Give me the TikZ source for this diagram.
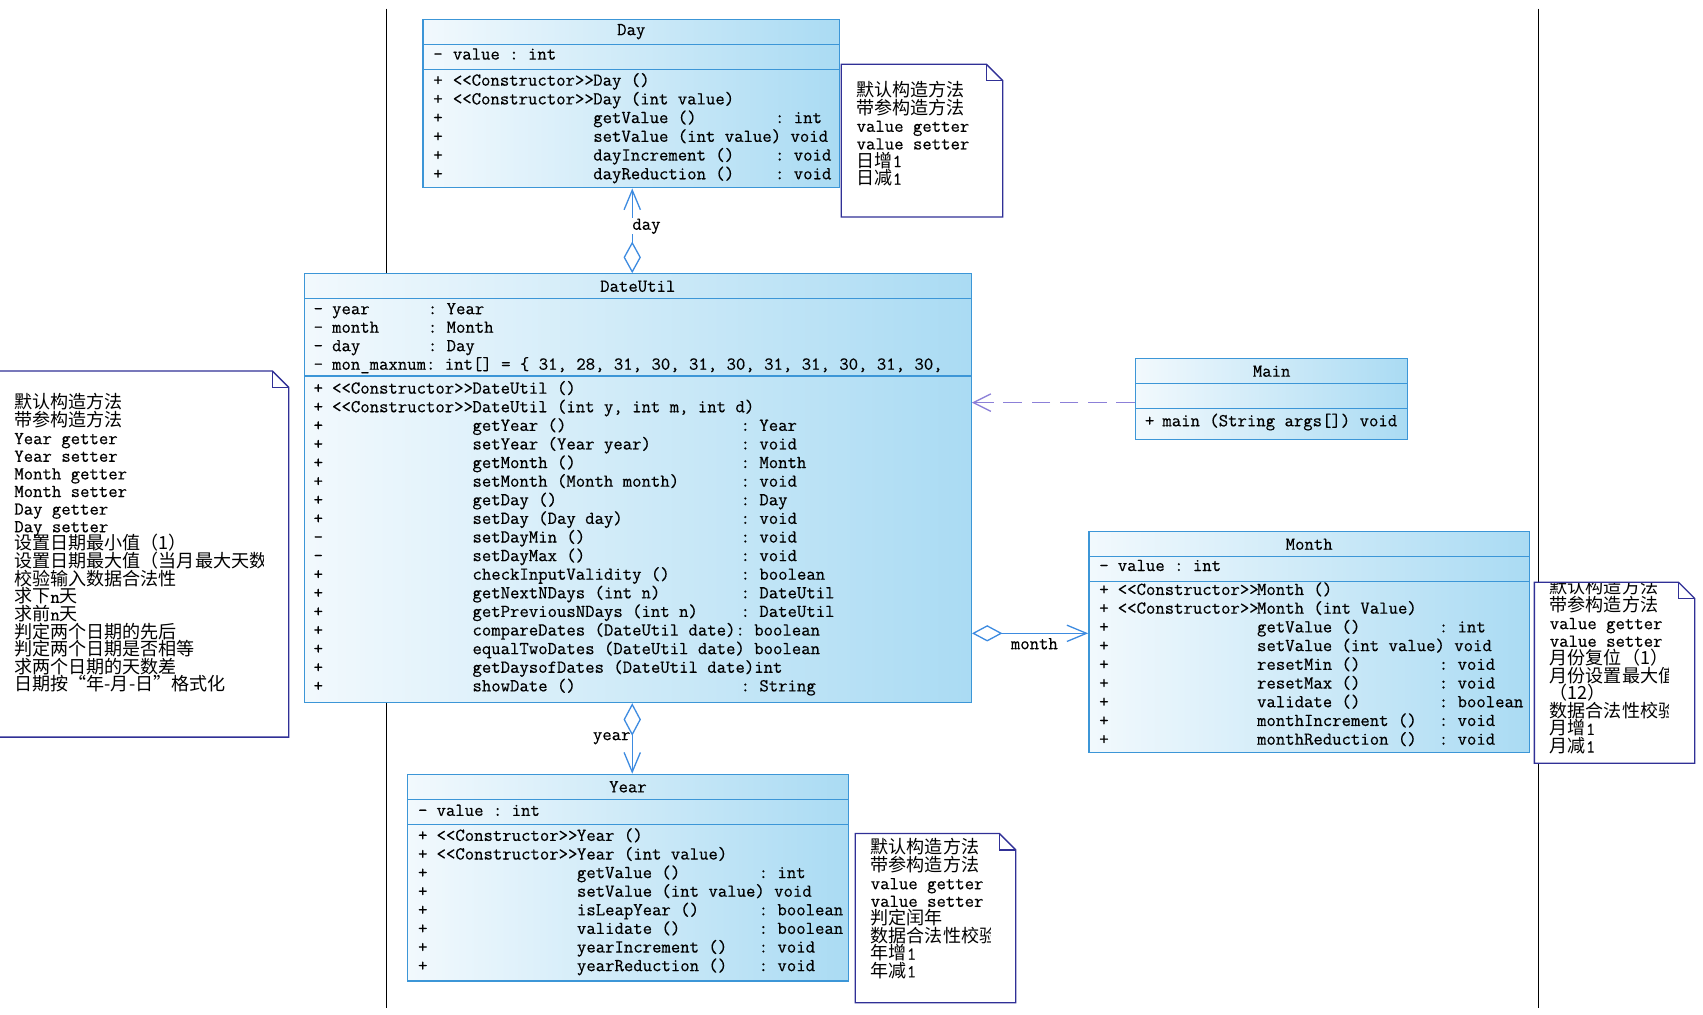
\documentclass[tikz,border=0pt]{standalone}
\usepackage{fontspec}
\setmonofont{Latin Modern Mono}[FakeBold=0.4]
\newfontfamily\cjk{Noto Sans CJK SC}
\usetikzlibrary{arrows.meta}
\definecolor{cbd}{RGB}{60,150,215}
\definecolor{cL}{RGB}{242,249,253}
\definecolor{cR}{RGB}{170,219,243}
\definecolor{cnote}{RGB}{48,48,150}
\definecolor{clink}{RGB}{61,139,224}
\definecolor{cdep}{RGB}{140,128,216}
\newcounter{tl}
\newcommand\TL[3]{\stepcounter{tl}\node[tt] (tl\arabic{tl}) at (#1,#2) {#3};}
\newcommand\C[1]{{\cjk\fontsize{16.6}{17}\selectfont #1}}
\begin{document}
\begin{tikzpicture}[x=1pt,y=-1pt,
  tt/.style={anchor=west, inner sep=0pt, font=\ttfamily\fontsize{16.76}{17}\selectfont, text height=11pt, text depth=3.5pt},
  sect/.style={draw=cbd, line width=1.2pt, left color=cL, right color=cR, inner sep=0pt, anchor=north west, font=\ttfamily\fontsize{16.76}{17}\selectfont},
  notebg/.style={fill=white, draw=none, inner sep=0pt, anchor=north west},
  noteline/.style={draw=cnote, line width=1.2pt, line join=miter},
  vline/.style={draw=black, line width=1.3pt},
  link/.style={draw=clink, line width=1.2pt},
  dep/.style={draw=cdep, line width=1.2pt, dash pattern=on 17pt off 9pt},
  lbl/.style={font=\ttfamily\fontsize{16.76}{17}\selectfont, fill=white, inner sep=1pt, text height=10pt, text depth=3pt}]
\useasboundingbox (0,0) rectangle (1565,932);
% swimlane lines
\draw[vline] (355,8) -- (355,926);
\draw[vline] (1414,8) -- (1414,926);

% ---------------- Day ----------------
\node[sect, minimum width=383pt, minimum height=23pt] (dayH) at (388,17) {Day};
\node[sect, minimum width=383pt, minimum height=23pt] (dayA) at (388,40) {};
\node[sect, minimum width=383pt, minimum height=109pt] (dayM) at (388,63) {};
\TL{398}{51}{-}\TL{416}{51}{value : int}
\TL{398}{75}{+}\TL{416}{75}{<<Constructor>>}\TL{545}{75}{Day ()}
\TL{398}{92.2}{+}\TL{416}{92.2}{<<Constructor>>}\TL{545}{92.2}{Day (int value)}
\TL{398}{109.4}{+}\TL{545}{109.4}{getValue ()}\TL{712}{109.4}{: int}
\TL{398}{126.6}{+}\TL{545}{126.6}{setValue (int value) void}
\TL{398}{143.8}{+}\TL{545}{143.8}{dayIncrement ()}\TL{712}{143.8}{: void}
\TL{398}{161}{+}\TL{545}{161}{dayReduction ()}\TL{712}{161}{: void}

% ---------------- DateUtil ----------------
\node[sect, minimum width=613pt, minimum height=23pt] (duH) at (279,251) {DateUtil};
\node[sect, minimum width=613pt, minimum height=71pt] (duA) at (279,274) {};
\node[sect, minimum width=613pt, minimum height=300pt] (duM) at (279,345) {};
\TL{288}{285}{-}\TL{305}{285}{year}\TL{393}{285}{: Year}
\TL{288}{302}{-}\TL{305}{302}{month}\TL{393}{302}{: Month}
\TL{288}{319}{-}\TL{305}{319}{day}\TL{393}{319}{: Day}
\TL{288}{336}{-}\TL{305}{336}{mon\_maxnum: int[] = \{ 31, 28, 31, 30, 31, 30, 31, 31, 30, 31, 30,}
\TL{288}{358}{+}\TL{305}{358}{<<Constructor>>}\TL{434}{358}{DateUtil ()}
\TL{288}{375.1}{+}\TL{305}{375.1}{<<Constructor>>}\TL{434}{375.1}{DateUtil (int y, int m, int d)}
\TL{288}{392.2}{+}\TL{434}{392.2}{getYear ()}\TL{680.4}{392.2}{: Year}
\TL{288}{409.3}{+}\TL{434}{409.3}{setYear (Year year)}\TL{680.4}{409.3}{: void}
\TL{288}{426.4}{+}\TL{434}{426.4}{getMonth ()}\TL{680.4}{426.4}{: Month}
\TL{288}{443.5}{+}\TL{434}{443.5}{setMonth (Month month)}\TL{680.4}{443.5}{: void}
\TL{288}{460.6}{+}\TL{434}{460.6}{getDay ()}\TL{680.4}{460.6}{: Day}
\TL{288}{477.7}{+}\TL{434}{477.7}{setDay (Day day)}\TL{680.4}{477.7}{: void}
\TL{288}{494.8}{-}\TL{434}{494.8}{setDayMin ()}\TL{680.4}{494.8}{: void}
\TL{288}{511.9}{-}\TL{434}{511.9}{setDayMax ()}\TL{680.4}{511.9}{: void}
\TL{288}{529.0}{+}\TL{434}{529.0}{checkInputValidity ()}\TL{680.4}{529.0}{: boolean}
\TL{288}{546.1}{+}\TL{434}{546.1}{getNextNDays (int n)}\TL{680.4}{546.1}{: DateUtil}
\TL{288}{563.2}{+}\TL{434}{563.2}{getPreviousNDays (int n)}\TL{680.4}{563.2}{: DateUtil}
\TL{288}{580.3}{+}\TL{434}{580.3}{compareDates (DateUtil date): boolean}
\TL{288}{597.4}{+}\TL{434}{597.4}{equalTwoDates (DateUtil date) boolean}
\TL{288}{614.5}{+}\TL{434}{614.5}{getDaysofDates (DateUtil date)int}
\TL{288}{631.6}{+}\TL{434}{631.6}{showDate ()}\TL{680.4}{631.6}{: String}

% ---------------- Main ----------------
\node[sect, minimum width=250pt, minimum height=23pt] (mainH) at (1043,329) {Main};
\node[sect, minimum width=250pt, minimum height=23pt] (mainA) at (1043,352) {};
\node[sect, minimum width=250pt, minimum height=28pt] (mainM) at (1043,375) {};
\TL{1052}{388}{+}\TL{1068}{388}{main (String args[]) void}

% ---------------- Month ----------------
\node[sect, minimum width=405pt, minimum height=23pt] (monH) at (1000,488) {Month};
\node[sect, minimum width=405pt, minimum height=23pt] (monA) at (1000,511) {};
\node[sect, minimum width=405pt, minimum height=157pt] (monM) at (1000,534) {};
\TL{1010}{521}{-}\TL{1027}{521}{value : int}
\TL{1010}{543}{+}\TL{1027}{543}{<<Constructor>>}\TL{1155}{543}{Month ()}
\TL{1010}{560.2}{+}\TL{1027}{560.2}{<<Constructor>>}\TL{1155}{560.2}{Month (int Value)}
\TL{1010}{577.4}{+}\TL{1155}{577.4}{getValue ()}\TL{1322}{577.4}{: int}
\TL{1010}{594.6}{+}\TL{1155}{594.6}{setValue (int value) void}
\TL{1010}{611.8}{+}\TL{1155}{611.8}{resetMin ()}\TL{1322}{611.8}{: void}
\TL{1010}{629}{+}\TL{1155}{629}{resetMax ()}\TL{1322}{629}{: void}
\TL{1010}{646.2}{+}\TL{1155}{646.2}{validate ()}\TL{1322}{646.2}{: boolean}
\TL{1010}{663.4}{+}\TL{1155}{663.4}{monthIncrement ()}\TL{1322}{663.4}{: void}
\TL{1010}{680.6}{+}\TL{1155}{680.6}{monthReduction ()}\TL{1322}{680.6}{: void}

% ---------------- Year ----------------
\node[sect, minimum width=405pt, minimum height=23pt] (yrH) at (374,711) {Year};
\node[sect, minimum width=405pt, minimum height=23pt] (yrA) at (374,734) {};
\node[sect, minimum width=405pt, minimum height=144pt] (yrM) at (374,757) {};
\TL{384}{746}{-}\TL{401}{746}{value : int}
\TL{384}{769}{+}\TL{401}{769}{<<Constructor>>}\TL{530}{769}{Year ()}
\TL{384}{786.1}{+}\TL{401}{786.1}{<<Constructor>>}\TL{530}{786.1}{Year (int value)}
\TL{384}{803.2}{+}\TL{530}{803.2}{getValue ()}\TL{697}{803.2}{: int}
\TL{384}{820.3}{+}\TL{530}{820.3}{setValue (int value) void}
\TL{384}{837.4}{+}\TL{530}{837.4}{isLeapYear ()}\TL{697}{837.4}{: boolean}
\TL{384}{854.5}{+}\TL{530}{854.5}{validate ()}\TL{697}{854.5}{: boolean}
\TL{384}{871.6}{+}\TL{530}{871.6}{yearIncrement ()}\TL{697}{871.6}{: void}
\TL{384}{888.7}{+}\TL{530}{888.7}{yearReduction ()}\TL{697}{888.7}{: void}

% ---------------- Notes ----------------
% Day note
\node[notebg, minimum width=148pt, minimum height=140pt] (dnote) at (773,59) {};
\TL{787}{85}{\C{默认构造方法}}
\TL{787}{101.2}{\C{带参构造方法}}
\TL{787}{117.4}{value getter}
\TL{787}{133.6}{value setter}
\TL{787}{149.8}{\C{日增}1}
\TL{787}{166}{\C{日减}1}
\draw[noteline] (dnote.north west) -- ([xshift=-15pt]dnote.north east) -- ([yshift=-15pt]dnote.north east) -- (dnote.south east) -- (dnote.south west) -- cycle;
\draw[noteline] ([xshift=-15pt]dnote.north east) -- ([xshift=-15pt,yshift=-15pt]dnote.north east) -- ([yshift=-15pt]dnote.north east);

% DateUtil note
\node[notebg, minimum width=270pt, minimum height=336pt] (unote) at (-5,341) {};
\begin{scope}
\clip (0,342) rectangle (242,676);
\TL{13}{372}{\C{默认构造方法}}
\TL{13}{388.2}{\C{带参构造方法}}
\TL{13}{404.4}{Year getter}
\TL{13}{420.6}{Year setter}
\TL{13}{436.8}{Month getter}
\TL{13}{453}{Month setter}
\TL{13}{469.2}{Day getter}
\TL{13}{485.4}{Day setter}
\TL{13}{501.6}{\C{设置日期最小值（1）}}
\TL{13}{517.8}{\C{设置日期最大值（当月最大天数）}}
\TL{13}{534}{\C{校验输入数据合法性}}
\TL{13}{550.2}{\C{求下}n\C{天}}
\TL{13}{566.4}{\C{求前}n\C{天}}
\TL{13}{582.6}{\C{判定两个日期的先后}}
\TL{13}{598.8}{\C{判定两个日期是否相等}}
\TL{13}{615}{\C{求两个日期的天数差}}
\TL{13}{631.2}{\C{日期按“年-月-日”格式化}}
\end{scope}
\draw[noteline] (unote.north west) -- ([xshift=-15pt]unote.north east) -- ([yshift=-15pt]unote.north east) -- (unote.south east) -- (unote.south west) -- cycle;
\draw[noteline] ([xshift=-15pt]unote.north east) -- ([xshift=-15pt,yshift=-15pt]unote.north east) -- ([yshift=-15pt]unote.north east);

% Month note
\node[notebg, minimum width=147pt, minimum height=166pt] (mnote) at (1410,535) {};
\begin{scope}
\clip (1410,536) rectangle (1533,700);
\TL{1424}{542}{\C{默认构造方法}}
\TL{1424}{558.2}{\C{带参构造方法}}
\TL{1424}{574.4}{value getter}
\TL{1424}{590.6}{value setter}
\TL{1424}{606.8}{\C{月份复位（1）}}
\TL{1424}{623}{\C{月份设置最大值}}
\TL{1424}{639.2}{\C{（12）}}
\TL{1424}{655.4}{\C{数据合法性校验}}
\TL{1424}{671.6}{\C{月增}1}
\TL{1424}{687.8}{\C{月减}1}
\end{scope}
\draw[noteline] (mnote.north west) -- ([xshift=-15pt]mnote.north east) -- ([yshift=-15pt]mnote.north east) -- (mnote.south east) -- (mnote.south west) -- cycle;
\draw[noteline] ([xshift=-15pt]mnote.north east) -- ([xshift=-15pt,yshift=-15pt]mnote.north east) -- ([yshift=-15pt]mnote.north east);

% Year note
\node[notebg, minimum width=147pt, minimum height=155pt] (ynote) at (786,766) {};
\begin{scope}
\clip (786,767) rectangle (910,920);
\TL{800}{781}{\C{默认构造方法}}
\TL{800}{797.2}{\C{带参构造方法}}
\TL{800}{813.4}{value getter}
\TL{800}{829.6}{value setter}
\TL{800}{845.8}{\C{判定闰年}}
\TL{800}{862}{\C{数据合法性校验}}
\TL{800}{878.2}{\C{年增}1}
\TL{800}{894.4}{\C{年减}1}
\end{scope}
\draw[noteline] (ynote.north west) -- ([xshift=-15pt]ynote.north east) -- ([yshift=-15pt]ynote.north east) -- (ynote.south east) -- (ynote.south west) -- cycle;
\draw[noteline] ([xshift=-15pt]ynote.north east) -- ([xshift=-15pt,yshift=-15pt]ynote.north east) -- ([yshift=-15pt]ynote.north east);

% ---------------- Connectors ----------------
\coordinate (cx) at (581,0);
\coordinate (my) at (0,582);
\coordinate (dy) at (0,370);
\draw[link, {Diamond[open,length=29pt,width=16pt]}-{Straight Barb[length=18pt,width=15pt]}]
  (cx |- duH.north) -- node[lbl, pos=.557, anchor=west, xshift=-1.5pt] (lday) {day} (cx |- dayM.south);
\draw[link, {Diamond[open,length=30pt,width=16pt]}-{Straight Barb[length=18pt,width=15pt]}]
  (cx |- duM.south) -- node[lbl, pos=.47, anchor=east, fill=none] (lyear) {year} (cx |- yrH.north);
\draw[link, {Diamond[open,length=28pt,width=15pt]}-{Straight Barb[length=18pt,width=15pt]}]
  (duM.east |- my) -- node[lbl, pos=.537, anchor=north, yshift=-3pt] (lmonth) {month} (monM.west |- my);
\draw[dep, -{Straight Barb[length=16pt,width=16pt]}] (mainA.west |- dy) -- (duM.east |- dy);
\end{tikzpicture}
\end{document}
